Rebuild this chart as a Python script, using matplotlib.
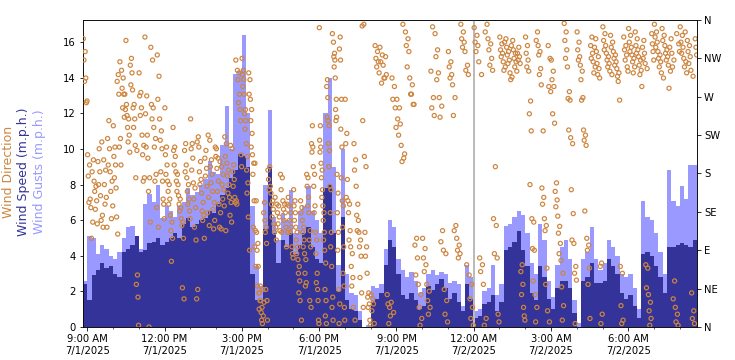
import datetime as dt
import numpy as np
import matplotlib
matplotlib.use("Agg")
import matplotlib.pyplot as plt
import matplotlib.dates as mdates
from matplotlib.ticker import FuncFormatter, MultipleLocator

# ---------------- data ----------------
start_time = dt.datetime(2025, 7, 1, 8, 50)
slot_minutes = 10

wind_speed = [2.4, 1.5, 2.9, 3.2, 3.6, 3.3, 3.4, 3.0, 2.8, 4.2, 4.4, 4.6, 5.1, 4.2, 4.3, 4.7, 4.8, 5.0, 4.6, 4.8, 5.0,
              5.3, 5.0, 5.8, 6.1, 5.6, 5.8, 6.0, 6.1, 6.5, 6.4, 6.9, 7.4, 7.8, 8.4, 8.8, 9.7, 9.6, 9.0, 3.0, 1.5,
              1.5, 5.5, 9.0, 5.3, 3.6, 4.9, 4.5, 5.3, 4.1, 4.6, 5.3, 5.6, 4.5, 3.8, 3.6, 7.8, 8.0, 5.3, 2.0, 6.2,
              1.5, 1.0, 0.9, 0.4, 0.0, 0.0, 1.4, 1.6, 1.9, 3.5, 4.9, 4.5, 3.0, 1.8, 1.6, 1.9, 1.5, 1.0, 1.2, 2.3,
              2.1, 2.4, 2.7, 2.2, 1.6, 1.9, 1.4, 0.9, 2.4, 1.6, 0.5, 0.6, 1.3, 1.4, 1.8, 0.9, 1.4, 4.3, 4.5, 4.8,
              5.4, 4.3, 3.4, 1.9, 1.5, 3.4, 2.8, 1.6, 1.0, 2.2, 2.6, 2.6, 2.2, 0.8, 0.0, 2.6, 2.8, 3.6, 2.5, 2.5,
              2.6, 3.8, 3.4, 3.0, 1.9, 1.6, 1.8, 1.2, 0.5, 4.1, 4.2, 4.0, 3.4, 2.8, 1.9, 4.5, 4.5, 4.6, 4.7, 4.6, 4.5, 4.9]

wind_gusts = [2.6, 5.1, 5.0, 4.1, 4.6, 4.4, 4.0, 3.8, 4.2, 5.0, 5.6, 5.7, 5.0, 4.4, 6.9, 7.5, 7.0, 8.0, 6.1, 6.8, 6.5,
              6.2, 6.8, 7.0, 7.8, 7.4, 7.6, 8.0, 8.3, 9.3, 8.7, 8.6, 10.2, 12.4, 10.0, 14.2, 14.4, 16.4, 12.0, 6.8, 3.4,
              2.3, 8.0, 12.2, 6.2, 4.9, 6.4, 6.0, 7.7, 5.3, 6.5, 6.8, 7.9, 6.5, 6.0, 5.3, 12.0, 14.0, 9.0, 3.5, 10.0,
              3.0, 1.9, 1.8, 0.9, 0.0, 0.1, 2.3, 2.2, 2.4, 4.4, 6.0, 5.6, 3.8, 3.2, 2.8, 3.1, 2.6, 1.9, 2.2, 3.0,
              3.2, 2.9, 3.1, 3.0, 2.5, 2.6, 2.4, 1.2, 3.5, 2.8, 0.9, 1.0, 2.0, 2.2, 3.5, 1.8, 2.4, 5.7, 5.8, 6.2,
              6.5, 6.3, 5.3, 3.6, 3.0, 5.8, 4.9, 2.6, 1.7, 3.5, 4.5, 4.9, 3.8, 1.5, 0.2, 3.8, 4.2, 5.6, 3.8, 3.2,
              3.6, 4.9, 4.5, 4.0, 3.0, 2.8, 3.0, 2.2, 1.0, 7.1, 6.2, 6.0, 5.3, 4.2, 3.0, 8.8, 7.1, 6.8, 7.9, 7.2, 9.1, 9.1]

# wind direction (degrees), listed in rough time order within each block
dir_0850 = [338, 323, 313, 292, 288, 263, 265]
dir_0900 = [202, 190, 177, 150, 146, 140, 123, 104, 196, 182, 171, 165, 159, 148, 138, 121,
            209, 194, 182, 167, 154, 131, 125, 117, 217, 196, 184, 167, 152, 144, 117,
            242, 221, 209, 190, 182, 171, 159, 142, 127]
dir_1000 = [236, 211, 200, 190, 175, 163, 109, 129, 296, 288, 273, 221, 211, 190,
            311, 301, 292, 280, 273, 257, 246, 336, 273, 261, 255, 248, 244, 234, 225, 217, 205,
            315, 307, 298, 284, 278, 261, 257, 244, 234, 213, 207, 175, 61, 50, 35, 2]
dir_1100 = [298, 275, 271, 257, 248, 225, 213, 202, 175, 171,
            340, 271, 250, 225, 211, 198, 175, 159, 123, 0,
            328, 313, 261, 257, 244, 234, 221, 211, 179, 171, 140, 117,
            319, 294, 267, 244, 230, 219, 209, 182, 171, 150, 144, 127]
dir_1200 = [257, 211, 202, 190, 179, 171, 167, 159, 150, 144, 131, 123, 113, 104, 77,
            234, 211, 207, 200, 190, 182, 179, 171, 167, 159, 154, 150, 144, 140, 136, 127, 123, 119, 104,
            46, 33, 215, 207, 190, 182, 175, 167, 159, 150, 144, 136, 127]
dir_1300 = [244, 215, 209, 198, 184, 169, 163, 150, 140, 117, 102, 44, 33, 223, 217, 211, 194, 182, 173,
            167, 157, 146, 136, 131, 125, 104, 207, 198, 186, 177, 165, 152, 134, 119, 225, 219, 196, 188,
            179, 169, 159, 146, 138, 125, 115, 211, 200]
dir_1400 = [209, 198, 186, 171, 159, 144, 134, 117, 115, 194, 188, 179, 167, 161, 150, 142, 113,
            223, 215, 200, 192, 184, 177, 167, 157, 152, 146, 131, 123, 213, 209, 190, 182, 173, 165,
            152, 148, 146, 144, 313, 301, 298, 290, 273, 263, 255, 242, 202, 188]
dir_1500 = [315, 301, 296, 290, 282, 273, 255, 250, 242, 232, 215, 200, 184, 169, 157, 129, 90,
            298, 290, 273, 267, 255, 242, 227, 211, 202, 192, 179, 148, 117, 94, 71,
            192, 148, 113, 111, 98, 90, 71, 48, 40, 31, 21,
            48, 40, 31, 23, 17, 4, 8, 44, 29, 13,
            146, 134, 125, 117, 111, 98, 44, 31, 8]
dir_1600 = [184, 188, 173, 165, 161, 157, 148, 144, 138, 129, 121, 117, 111, 102,
            152, 144, 142, 134, 129, 121, 113, 111,
            179, 175, 161, 148, 144, 138, 134, 125, 117, 111, 94,
            152, 144, 142, 134, 125, 117, 111, 94, 86, 81]
dir_1700 = [161, 148, 142, 134, 125, 117, 111, 102, 94, 86, 79, 71, 63, 54, 40, 31, 8,
            148, 140, 134, 125, 117, 111, 102, 94, 86, 79, 63, 52, 48,
            179, 175, 165, 152, 142, 134, 113, 102, 94, 31, 23,
            236, 215, 211, 205, 188, 179, 165, 142, 134, 111, 102, 86, 63, 52, 44, 31, 8, 4]
dir_1800 = [351, 236, 219, 211, 205, 192, 184, 175, 161, 152, 142, 134, 125, 111, 102, 90, 75, 44, 31, 13, 4,
            290, 282, 269, 246, 242, 236, 215, 207, 188, 165, 161, 134, 111, 94, 71, 35, 23, 8,
            344, 334, 321, 317, 313, 305, 292, 267, 255, 246, 242, 179, 157, 134, 111, 90, 44, 27, 4,
            340, 326, 313, 267, 232, 211, 175, 148, 142, 117, 94, 63, 48, 23, 8]
dir_1900 = [267, 227, 215, 173, 152, 148, 144, 134, 113, 102, 94, 86, 71, 58, 48, 23, 8,
            215, 196, 184, 165, 144, 131, 125, 113, 111, 102, 94, 83, 58, 40, 23,
            353, 355, 242, 200, 188, 111, 94, 83, 63, 40, 35, 27, 23, 8, 2]
dir_2000 = [38, 27, 19, 4, 33, 330, 323, 315, 311, 305, 298, 286, 328, 319, 311, 307, 317, 292,
            296, 292, 38, 23, 27, 13, 4, 29, 17, 292, 282, 267, 257, 234]
dir_2100 = [267, 257, 244, 238, 225, 213, 198, 194, 203, 355, 346, 338, 330, 323, 305, 292, 284,
            273, 261, 273, 261, 104, 96, 81, 61, 50, 38, 23, 10, 2]
dir_2200 = [104, 92, 81, 73, 65, 50, 42, 31, 23, 15, 300, 269, 257, 248, 352, 344, 325, 317, 298,
            290, 269, 259, 246, 113, 100, 90, 86, 44, 31, 15, 6]
dir_2300 = [323, 311, 305, 296, 292, 284, 269, 248, 119, 113, 104, 96, 90, 86, 81, 355, 346, 338,
            334, 328, 323, 307, 301, 296, 73, 61, 50, 33, 23, 10, 2]
dir_0000 = [351, 342, 334, 330, 323, 311, 296, 81, 73, 65, 50, 10, 2, 355, 346, 338, 332, 325, 315,
            307, 301, 188, 127, 119, 86, 81, 15, 6]
dir_0100 = [340, 332, 325, 321, 317, 311, 305, 301, 338, 334, 328, 323, 319, 313, 309, 298, 293, 290,
            336, 330, 325, 321, 315, 311, 305, 300, 328, 321, 317, 313, 309, 73, 65, 50, 38, 23, 13, 8]
dir_0200 = [340, 330, 321, 313, 305, 300, 265, 250, 230, 167, 127, 123, 92, 90, 54, 38, 23, 6,
            346, 336, 330, 323, 319, 303, 296, 284, 230, 163, 152, 144, 127, 119, 113, 69, 50, 19, 6,
            330, 315, 282, 276]
dir_0300 = [313, 300, 290, 282, 250, 239, 169, 159, 149, 141, 130, 118, 110, 98, 86, 78, 63, 47, 25, 8,
            356, 346, 336, 325, 315, 305, 276, 268, 266, 231, 222, 215, 161, 133, 102, 98, 71, 63, 55, 4]
dir_0400 = [346, 334, 325, 317, 313, 307, 300, 290, 269, 266, 231, 225, 219, 213, 136, 104, 96, 90,
            69, 50, 10, 340, 330, 321, 315, 311, 305, 298, 338, 328, 323, 317, 309, 303, 296, 292,
            75, 71, 15, 4]
dir_0500 = [352, 344, 336, 330, 325, 321, 317, 313, 309, 305, 300, 296, 342, 334, 328, 323, 319, 315,
            311, 307, 303, 298, 294, 266, 288, 71, 63, 25, 8, 4, 340, 330, 325, 319, 313, 305, 300]
dir_0600 = [350, 342, 334, 328, 323, 319, 315, 311, 305, 298, 346, 338, 330, 325, 321, 317, 313, 307,
            301, 296, 282, 336, 328, 321, 315, 309, 303, 73, 69, 46, 38, 29, 19, 10, 2, 344, 332, 323, 313]
dir_0700 = [355, 346, 340, 334, 328, 323, 319, 315, 311, 305, 298, 292, 350, 342, 336, 330, 325, 321,
            317, 313, 307, 300, 280, 338, 328, 321, 313, 305, 54, 33, 23, 15, 6, 2, 344, 332, 323]
dir_0800 = [352, 342, 334, 328, 321, 315, 311, 305, 298, 346, 336, 330, 323, 317, 309, 301, 294,
            40, 19, 10, 4, 338, 328, 319]

direction_blocks = [
    (dt.datetime(2025, 7, 1, 8, 50), 10, dir_0850),
    (dt.datetime(2025, 7, 1, 9), 60, dir_0900),
    (dt.datetime(2025, 7, 1, 10), 60, dir_1000),
    (dt.datetime(2025, 7, 1, 11), 60, dir_1100),
    (dt.datetime(2025, 7, 1, 12), 60, dir_1200),
    (dt.datetime(2025, 7, 1, 13), 60, dir_1300),
    (dt.datetime(2025, 7, 1, 14), 60, dir_1400),
    (dt.datetime(2025, 7, 1, 15), 60, dir_1500),
    (dt.datetime(2025, 7, 1, 16), 60, dir_1600),
    (dt.datetime(2025, 7, 1, 17), 60, dir_1700),
    (dt.datetime(2025, 7, 1, 18), 60, dir_1800),
    (dt.datetime(2025, 7, 1, 19), 60, dir_1900),
    (dt.datetime(2025, 7, 1, 20), 60, dir_2000),
    (dt.datetime(2025, 7, 1, 21), 60, dir_2100),
    (dt.datetime(2025, 7, 1, 22), 60, dir_2200),
    (dt.datetime(2025, 7, 1, 23), 60, dir_2300),
    (dt.datetime(2025, 7, 2, 0), 60, dir_0000),
    (dt.datetime(2025, 7, 2, 1), 60, dir_0100),
    (dt.datetime(2025, 7, 2, 2), 60, dir_0200),
    (dt.datetime(2025, 7, 2, 3), 60, dir_0300),
    (dt.datetime(2025, 7, 2, 4), 60, dir_0400),
    (dt.datetime(2025, 7, 2, 5), 60, dir_0500),
    (dt.datetime(2025, 7, 2, 6), 60, dir_0600),
    (dt.datetime(2025, 7, 2, 7), 60, dir_0700),
    (dt.datetime(2025, 7, 2, 8), 40, dir_0800),
]

compass_labels = ["N", "NE", "E", "SE", "S", "SW", "W", "NW", "N"]

# ---------------- plot ----------------
speed_color = "#333399"
gust_color = "#9999ff"
dir_color = "#cd853f"

fig = plt.figure(figsize=(735 / 72, 360 / 72), dpi=72)
ax = fig.add_axes([83 / 735, 33 / 360, 614 / 735, 307 / 360])

slot_times = [start_time + dt.timedelta(minutes=slot_minutes * i) for i in range(len(wind_speed))]
slot_num = mdates.date2num(slot_times)
width = slot_minutes / 1440.0
ax.bar(slot_num, wind_gusts, width=width, align="edge", color=gust_color, linewidth=0, zorder=1)
ax.bar(slot_num, wind_speed, width=width, align="edge", color=speed_color, linewidth=0, zorder=2)

end_time = start_time + dt.timedelta(minutes=slot_minutes * len(wind_speed))
ax.set_xlim(mdates.date2num(start_time), mdates.date2num(end_time))
ax.set_ylim(0, 17.25)
ax.yaxis.set_major_locator(MultipleLocator(2))
ax.axvline(mdates.date2num(dt.datetime(2025, 7, 2, 0)), color="#bbbbbb", lw=2, zorder=3)

ax.xaxis.set_major_locator(mdates.HourLocator(byhour=[0, 3, 6, 9, 12, 15, 18, 21]))
ax.xaxis.set_minor_locator(mdates.HourLocator())


def fmt(x, pos):
    d = mdates.num2date(x)
    h = d.hour % 12 or 12
    ampm = "AM" if d.hour < 12 else "PM"
    return f"{h}:{d.minute:02d} {ampm}\n{d.month}/{d.day}/{d.year}"


ax.xaxis.set_major_formatter(FuncFormatter(fmt))
ax.tick_params(axis="both", labelsize=10)
ax.tick_params(axis="x", which="minor", length=2)

ax2 = ax.twinx()
ax2.set_ylim(0, 360)
ax2.set_yticks(np.arange(0, 361, 45))
ax2.set_yticklabels(compass_labels)
ax2.tick_params(axis="y", labelsize=10)

# place each block's readings evenly in time; a small local interleave
# (within groups of 5 neighbouring readings) keeps them scattered like the original
perm5 = [0, 3, 1, 4, 2]
dir_t = []
dir_v = []
for bstart, blen, vals in direction_blocks:
    n = len(vals)
    for k, v in enumerate(vals):
        g = (k // 5) * 5
        pos = g + perm5[k % 5] if g + 5 <= n else k
        dir_t.append(bstart + dt.timedelta(minutes=blen * (pos + 0.5) / n))
        dir_v.append(v)
ax2.scatter(mdates.date2num(dir_t), dir_v, s=17, facecolors="none", edgecolors=dir_color,
            linewidths=1.2, zorder=4)

for spine in ax.spines.values():
    spine.set_color("#444444")

fig.text(9 / 735, 1 - 172 / 360, "Wind Direction", rotation=90, color=dir_color,
         fontsize=12.5, ha="center", va="center")
fig.text(24 / 735, 1 - 172 / 360, "Wind Speed (m.p.h.)", rotation=90, color=speed_color,
         fontsize=12.5, ha="center", va="center")
fig.text(39 / 735, 1 - 172 / 360, "Wind Gusts (m.p.h.)", rotation=90, color=gust_color,
         fontsize=12.5, ha="center", va="center")

fig.savefig("out.png", dpi=72)
